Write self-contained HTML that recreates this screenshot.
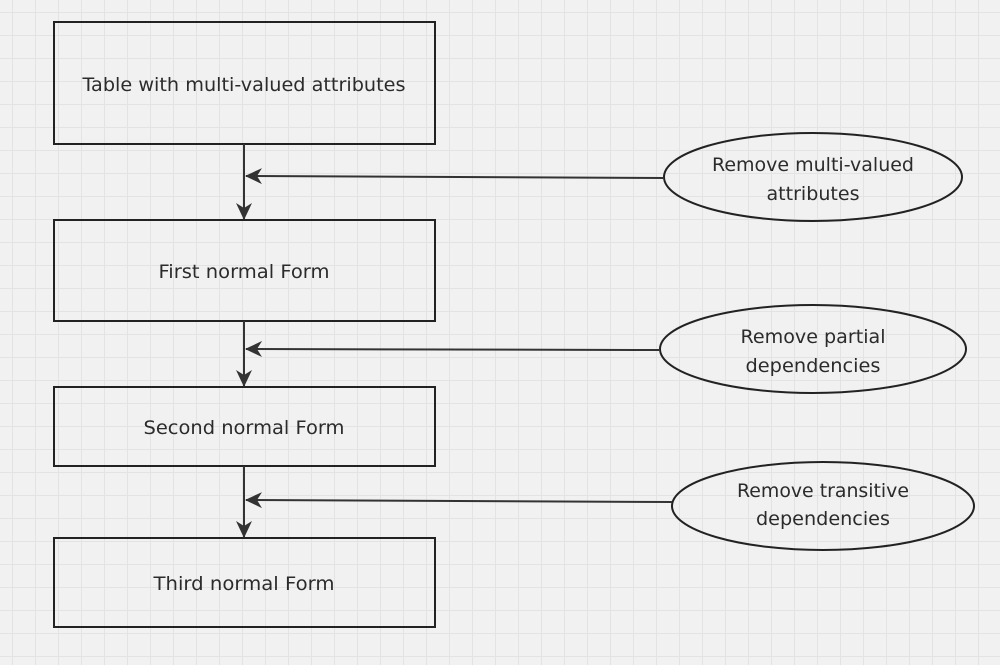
<!DOCTYPE html>
<html><head><style>
html,body{margin:0;padding:0;}
body{width:1000px;height:660px;overflow:hidden;background-color:#f1f1f1;
background-image:linear-gradient(to right,#e3e3e3 1px,transparent 1px),linear-gradient(to bottom,#e3e3e3 1px,transparent 1px);
background-size:23px 23px;background-position:12px 12px;}
svg text{font-family:"DejaVu Sans","Liberation Sans",sans-serif;font-size:19px;fill:#2b2b2b;text-anchor:middle;}
</style></head><body>
<svg width="1000" height="660" viewBox="0 0 1000 660" xmlns="http://www.w3.org/2000/svg">
<defs>
<marker id="b" markerWidth="18" markerHeight="18" refX="16" refY="9" orient="auto" markerUnits="userSpaceOnUse"><path d="M0,1 L17,9 L0,17 L5,9 Z" fill="#333"/></marker></defs>
<g fill="none" stroke="#222" stroke-width="2">
<rect x="54" y="22" width="381" height="122"/>
<rect x="54" y="220" width="381" height="101"/>
<rect x="54" y="387" width="381" height="79"/>
<rect x="54" y="538" width="381" height="89"/>
<ellipse cx="813" cy="177" rx="149" ry="44"/>
<ellipse cx="813" cy="349" rx="153" ry="44"/>
<ellipse cx="823" cy="506" rx="151" ry="44"/>
</g>
<g stroke="#333" stroke-width="2" fill="none">
<line x1="244" y1="144" x2="244" y2="219" marker-end="url(#b)"/>
<line x1="244" y1="321" x2="244" y2="386" marker-end="url(#b)"/>
<line x1="244" y1="466" x2="244" y2="537" marker-end="url(#b)"/>
<line x1="664" y1="178" x2="246" y2="176" marker-end="url(#b)"/>
<line x1="660" y1="350" x2="246" y2="349" marker-end="url(#b)"/>
<line x1="672" y1="502" x2="246" y2="500" marker-end="url(#b)"/>
</g>
<text x="244" y="91" textLength="323" lengthAdjust="spacingAndGlyphs">Table with multi-valued attributes</text>
<text x="244" y="278" textLength="171" lengthAdjust="spacingAndGlyphs">First normal Form</text>
<text x="244" y="434" textLength="201" lengthAdjust="spacingAndGlyphs">Second normal Form</text>
<text x="244" y="590" textLength="181" lengthAdjust="spacingAndGlyphs">Third normal Form</text>
<text x="813" y="171" textLength="202" lengthAdjust="spacingAndGlyphs">Remove multi-valued</text>
<text x="813" y="200" textLength="93" lengthAdjust="spacingAndGlyphs">attributes</text>
<text x="813" y="343" textLength="145" lengthAdjust="spacingAndGlyphs">Remove partial</text>
<text x="813" y="372" textLength="135" lengthAdjust="spacingAndGlyphs">dependencies</text>
<text x="823" y="497" textLength="172" lengthAdjust="spacingAndGlyphs">Remove transitive</text>
<text x="823" y="525" textLength="134" lengthAdjust="spacingAndGlyphs">dependencies</text>
</svg>
</body></html>
